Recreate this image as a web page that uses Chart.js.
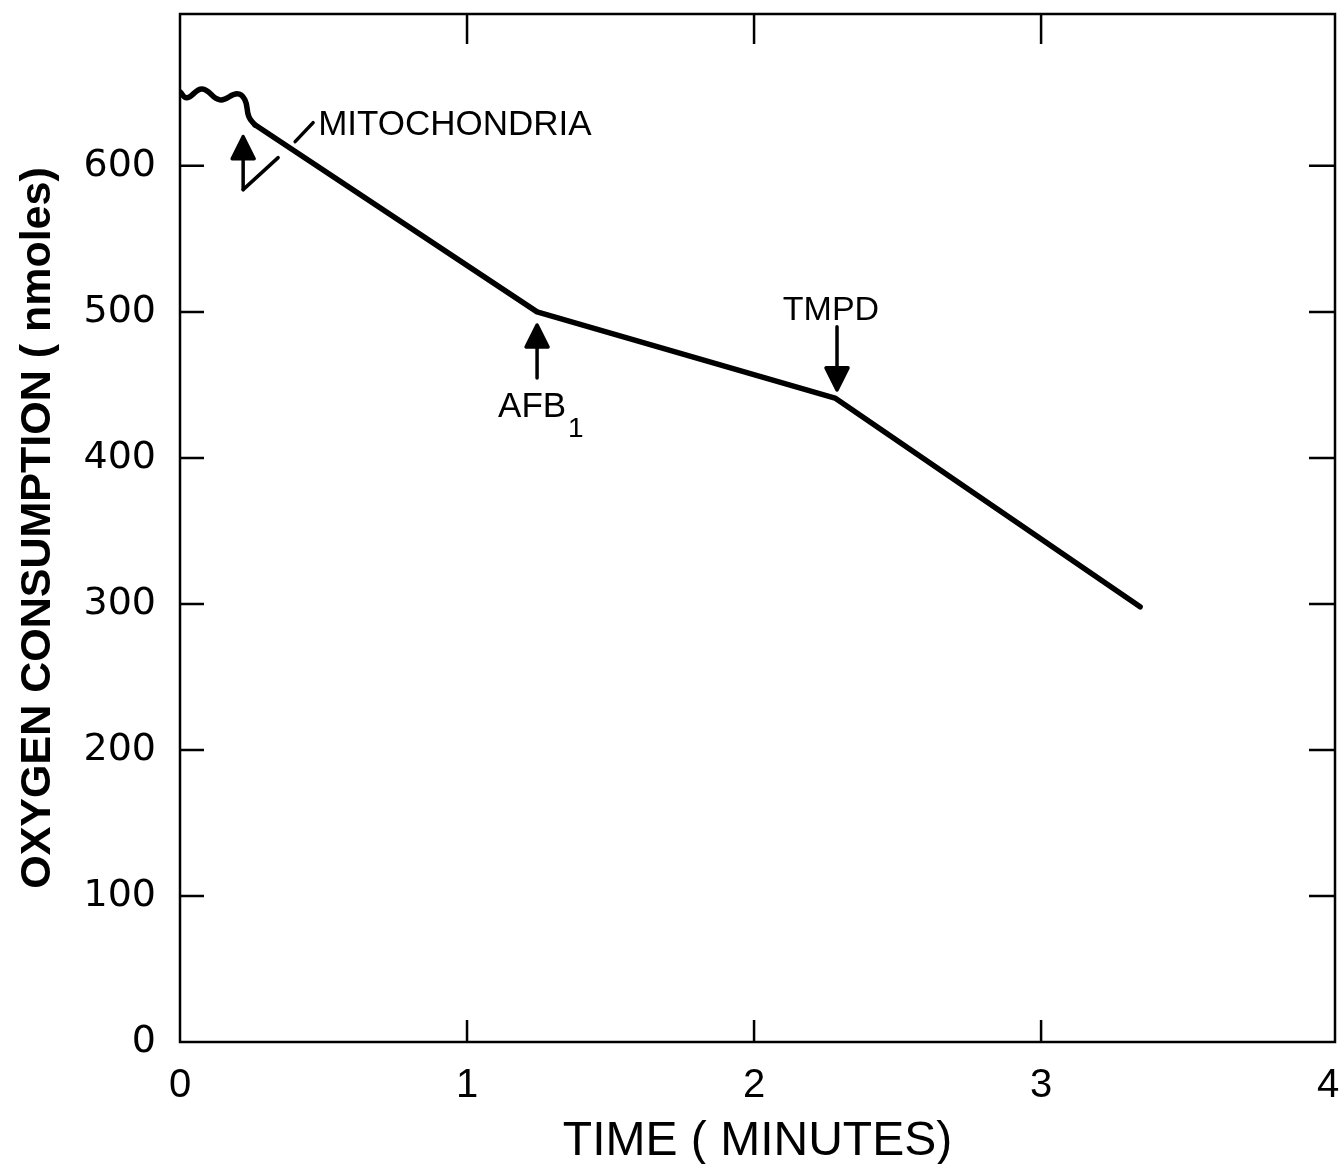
<!DOCTYPE html>
<html>
<head>
<meta charset="utf-8">
<script src="https://cdn.jsdelivr.net/npm/chart.js@4.4.1/dist/chart.umd.min.js"></script>
<style>
  body { margin: 0; background: #fff; }
</style>
</head>
<body>
<canvas id="grafico" width="1341" height="1164"></canvas>
<script>
// trazo: tiempo (min) y O2 (nmoles)
const startTime = [0, 0.024, 0.077, 0.139, 0.199, 0.226, 0.24, 0.261];
const startO2 = [650.7, 646.6, 652.7, 645.2, 649.3, 645.2, 633.6, 628.1];
const traceTime = [0.261, 1.244, 2.282, 3.345];
const traceO2 = [628.1, 500, 441, 298];

const xTicks = [0, 1, 2, 3, 4];
const yTicks = [0, 100, 200, 300, 400, 500, 600];

// adiciones marcadas con flechas
const addLabels = ['MITOCHONDRIA', 'AFB', 'TMPD'];
const addTime = [0.22, 1.244, 2.289];
const addO2 = [620, 491, 446.6];

function upArrow(ctx, px, py, shaft) {
  ctx.beginPath();
  ctx.moveTo(px, py);
  ctx.lineTo(px - 11, py + 22);
  ctx.lineTo(px + 11, py + 22);
  ctx.closePath();
  ctx.fill();
  ctx.stroke();
  ctx.beginPath();
  ctx.moveTo(px, py + 20);
  ctx.lineTo(px, py + shaft);
  ctx.stroke();
}

function downArrow(ctx, px, py, shaft) {
  ctx.beginPath();
  ctx.moveTo(px, py);
  ctx.lineTo(px - 11, py - 22);
  ctx.lineTo(px + 11, py - 22);
  ctx.closePath();
  ctx.fill();
  ctx.stroke();
  ctx.beginPath();
  ctx.moveTo(px, py - 20);
  ctx.lineTo(px, py - shaft);
  ctx.stroke();
}

const marcos = {
  id: 'marcos',
  afterDatasetsDraw(chart) {
    const {ctx, chartArea: a, scales: {x, y}} = chart;
    ctx.save();
    ctx.strokeStyle = '#000';
    ctx.fillStyle = '#000';

    // marco y marcas hacia dentro (las de los extremos caen sobre el marco)
    ctx.lineWidth = 2.5;
    ctx.strokeRect(a.left, a.top, a.right - a.left, a.bottom - a.top);
    ctx.beginPath();
    xTicks.slice(1, -1).forEach(v => {
      const px = x.getPixelForValue(v);
      ctx.moveTo(px, a.bottom); ctx.lineTo(px, a.bottom - 22);
      ctx.moveTo(px, a.top); ctx.lineTo(px, a.top + 30);
    });
    yTicks.slice(1).forEach(v => {
      const py = y.getPixelForValue(v);
      ctx.moveTo(a.left, py); ctx.lineTo(a.left + 24, py);
      ctx.moveTo(a.right, py); ctx.lineTo(a.right - 26, py);
    });
    ctx.stroke();

    // flechas
    ctx.lineWidth = 3.5;
    ctx.lineJoin = 'round';
    ctx.lineCap = 'round';
    const pts = addTime.map((t, i) => [x.getPixelForValue(t), y.getPixelForValue(addO2[i])]);

    let [px, py] = pts[0];
    upArrow(ctx, px, py, 53);
    ctx.beginPath();
    ctx.moveTo(px, py + 53);
    ctx.lineTo(px + 35, py + 21);
    ctx.moveTo(px + 52, py + 5);
    ctx.lineTo(px + 70, py - 14);
    ctx.stroke();
    ctx.font = '35px "Liberation Sans", Arial, sans-serif';
    ctx.textAlign = 'left';
    ctx.textBaseline = 'alphabetic';
    ctx.fillText(addLabels[0], px + 75, py - 2);

    [px, py] = pts[1];
    upArrow(ctx, px, py, 53);
    ctx.font = '35px "Liberation Sans", Arial, sans-serif';
    ctx.fillText(addLabels[1], px - 39, py + 92);
    ctx.font = '28px "Liberation Sans", Arial, sans-serif';
    ctx.fillText('1', px + 31, py + 112);

    [px, py] = pts[2];
    downArrow(ctx, px, py, 63);
    ctx.font = '34px "Liberation Sans", Arial, sans-serif';
    ctx.textAlign = 'center';
    ctx.fillText(addLabels[2], px - 6, py - 70);

    ctx.restore();
  }
};

let grafico = document.getElementById('grafico').getContext('2d');

var chart = new Chart(grafico, {
  type: 'line',
  data: {
    datasets: [{
      label: 'inicio',
      data: startTime.map((t, i) => ({x: t, y: startO2[i]})),
      borderColor: '#000',
      borderWidth: 5.5,
      tension: 0.45,
      pointRadius: 0,
      borderCapStyle: 'round',
      borderJoinStyle: 'round'
    }, {
      label: 'trazo',
      data: traceTime.map((t, i) => ({x: t, y: traceO2[i]})),
      borderColor: '#000',
      borderWidth: 5.5,
      tension: 0,
      pointRadius: 0,
      borderCapStyle: 'round',
      borderJoinStyle: 'round'
    }]
  },
  options: {
    responsive: false,
    animation: false,
    layout: { padding: { top: 14, right: 6, left: 0, bottom: 0 } },
    plugins: { legend: { display: false }, tooltip: { enabled: false } },
    scales: {
      x: {
        type: 'linear',
        min: 0,
        max: 4.024,
        afterBuildTicks: s => { s.ticks = xTicks.map(v => ({value: v})); },
        afterFit: s => { s.height = 122; s.paddingLeft = 0; s.paddingRight = 0; },
        grid: { display: false, drawTicks: false },
        border: { display: false },
        ticks: {
          color: '#000', padding: 20, autoSkip: false, maxRotation: 0,
          font: { family: '"Liberation Sans", Arial, sans-serif', size: 40 }
        },
        title: {
          display: true, text: 'TIME ( MINUTES)', color: '#000',
          font: { family: '"Liberation Sans", Arial, sans-serif', size: 48, lineHeight: 1 },
          padding: { top: 0, bottom: -2 }
        }
      },
      y: {
        type: 'linear',
        min: 0,
        max: 704,
        afterBuildTicks: s => { s.ticks = yTicks.map(v => ({value: v})); },
        afterFit: s => { s.width = 180; s.paddingTop = 0; s.paddingBottom = 0; },
        grid: { display: false, drawTicks: false },
        border: { display: false },
        ticks: {
          color: '#000', padding: 24, autoSkip: false,
          font: { family: '"DejaVu Sans", sans-serif', size: 38 }
        },
        title: {
          display: true, text: 'OXYGEN CONSUMPTION ( nmoles)', color: '#000',
          font: { family: '"Liberation Sans", Arial, sans-serif', size: 43, weight: 'bold', lineHeight: 1.2 },
          padding: { top: 12, bottom: 0 }
        }
      }
    }
  },
  plugins: [marcos]
});
</script>
</body>
</html>
